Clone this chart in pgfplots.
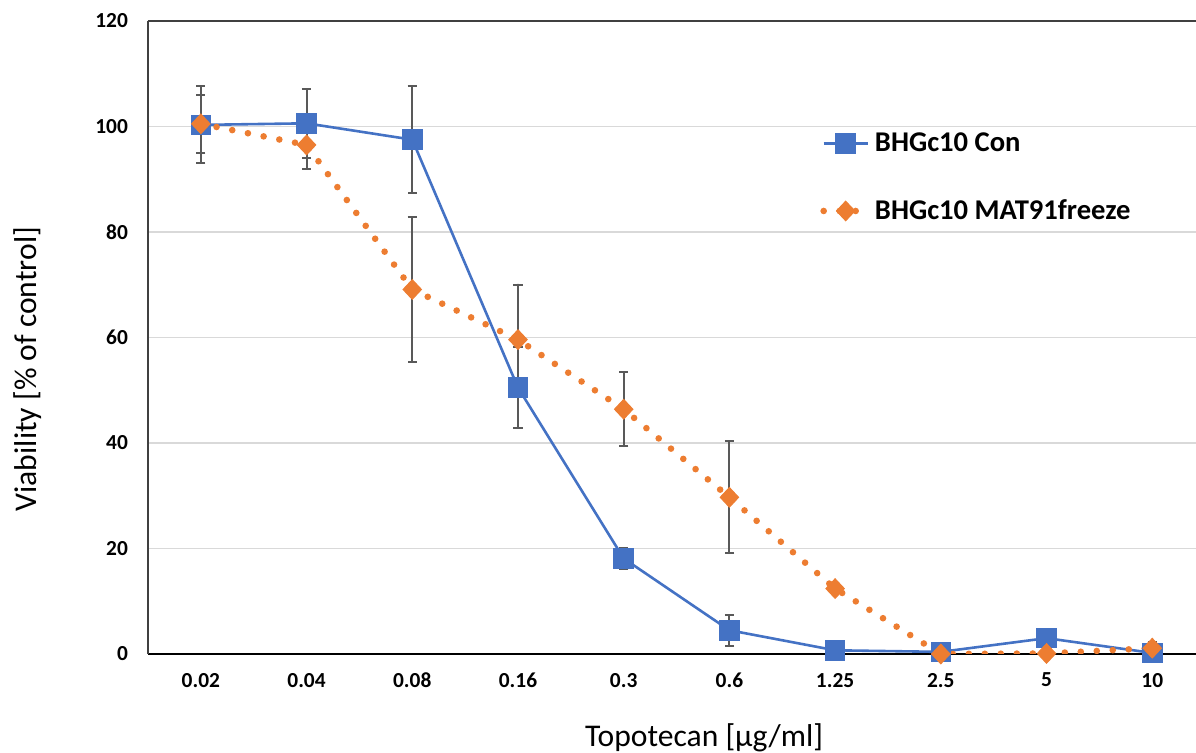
\documentclass[border=0pt]{standalone}
\usepackage{fontspec}
\setmainfont{Carlito}
\usepackage{pgfplots}
\pgfplotsset{compat=1.18}
\definecolor{cblue}{HTML}{4472C4}
\definecolor{corange}{HTML}{ED7D31}
\definecolor{errgray}{HTML}{595959}
\definecolor{gridgray}{HTML}{D9D9D9}
\definecolor{framegray}{HTML}{404040}
\begin{document}
\begin{tikzpicture}
\begin{axis}[
  width=524pt, height=316.5pt, scale only axis,
  xmin=-0.5, xmax=9.414, ymin=0, ymax=120,
  xtick={0,...,9},
  xticklabels={0.02,0.04,0.08,0.16,0.3,0.6,1.25,2.5,5,10},
  ytick={0,20,40,60,80,100,120},
  axis x line*=bottom, axis y line*=left,
  x axis line style={black, line width=0.7pt},
  y axis line style={framegray, line width=0.7pt},
  major tick length=0pt,
  ymajorgrids, grid style={gridgray, line width=0.6pt},
  /pgf/number format/assume math mode=true,
  ticklabel style={font=\bfseries\fontsize{10.7}{12}\selectfont},
  xticklabel style={yshift=-6pt},
  yticklabel style={xshift=-6.5pt},
  xlabel={Topotecan [µg/ml]},
  ylabel={Viability [\% of control]},
  label style={font=\fontsize{15.8}{18}\selectfont},
  xlabel style={at={(axis cs:4.76,0)}, anchor=center, yshift=-42pt},
  ylabel style={at={(axis cs:-0.5,54.0)}, anchor=center, yshift=60pt},
  legend style={at={(axis cs:5.80,100.4)}, anchor=north west, draw=none, fill=none,
    font=\bfseries\fontsize{14.3}{16}\selectfont, row sep=18.5pt, cells={anchor=west}},
  legend image code/.code={\draw[mark repeat=2,mark phase=2,#1] plot coordinates {(0pt,0pt) (11pt,0pt) (22pt,0pt)};},
  error bars/y dir=both, error bars/y explicit,
  error bars/error bar style={errgray, line width=1pt, solid},
  error bars/error mark options={errgray, line width=1pt, mark size=2.3pt, rotate=90, solid},
]
\addplot[cblue, line width=1.3pt, mark=square*, mark size=4.5pt, mark options={solid, fill=cblue, draw=cblue}]
  table[x=x, y=y, y error=e] {
  x y e
  0 100.3 7.3
  1 100.6 6.5
  2 97.5 10.2
  3 50.5 7.7
  4 18.1 2.0
  5 4.5 2.9
  6 0.7 0.3
  7 0.4 0.3
  8 3.0 1.7
  9 0.2 0.3
  };
\addlegendentry{BHGc10 Con}
\addplot[corange, line width=3.3pt, line cap=round, dash pattern=on 0pt off 8pt, mark=diamond*, mark size=4.9pt, mark options={solid, xscale=1.25, fill=corange, draw=corange, line width=0.5pt}]
  table[x=x, y=y, y error=e] {
  x y e
  0 100.5 5.5
  1 96.5 4.5
  2 69.1 13.7
  3 59.6 10.4
  4 46.4 7.0
  5 29.7 10.6
  6 12.4 0.3
  7 0.0 0.3
  8 0.1 0.3
  9 1.1 1.2
  };
\addlegendentry{BHGc10 MAT91freeze}
\draw[framegray, line width=0.7pt] (rel axis cs:0,1) -- (rel axis cs:1,1);
\coordinate (bl) at (rel axis cs:0,0);
\coordinate (tr) at (rel axis cs:1,1);
\end{axis}
\pgfresetboundingbox
\path[use as bounding box] ([shift={(-74pt,-49.5pt)}]bl) rectangle ([shift={(0pt,10.5pt)}]tr);
\end{tikzpicture}
\end{document}
